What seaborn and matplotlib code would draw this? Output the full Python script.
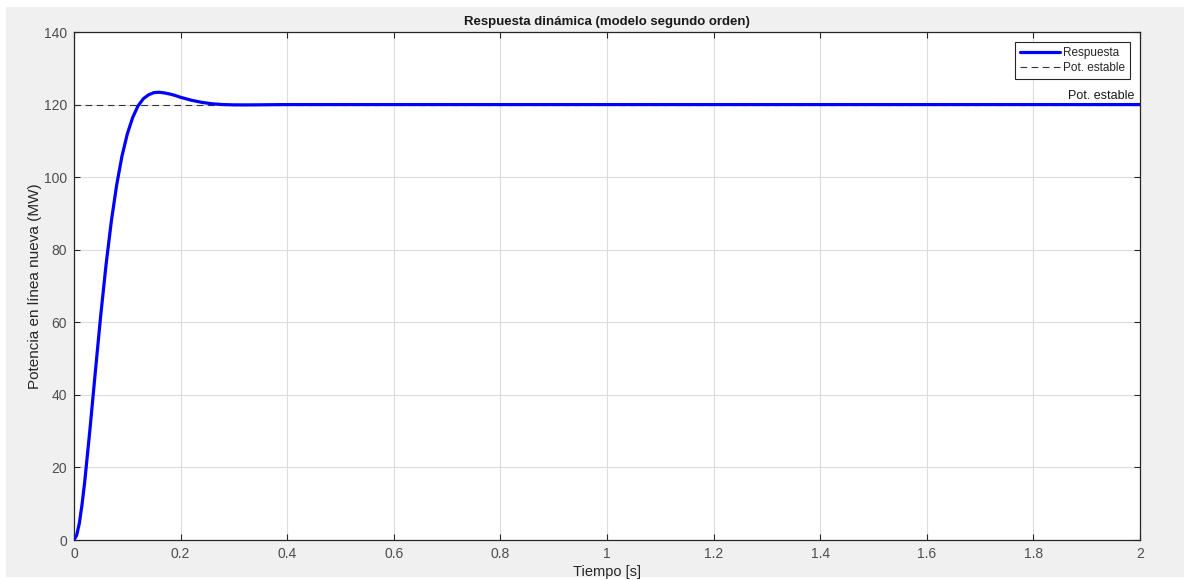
import matplotlib
matplotlib.use("Agg")
import matplotlib.pyplot as plt
import seaborn as sns
import pandas as pd
from matplotlib.patches import Rectangle

# Valores (respuesta al escalon)
tiempo = [0.0, 0.005, 0.01, 0.015, 0.02, 0.03, 0.04, 0.05, 0.06, 0.07, 0.08,
          0.09, 0.10, 0.11, 0.12, 0.13, 0.14, 0.15, 0.16, 0.17, 0.18, 0.19,
          0.20, 0.22, 0.24, 0.26, 0.28, 0.30, 0.33, 0.36, 0.40, 0.6, 0.8,
          1.0, 1.2, 1.4, 1.6, 1.8, 2.0]
potencia = [0.0, 1.3, 4.6, 9.7, 15.9, 30.6, 46.3, 61.7, 75.7, 87.8, 97.8,
            105.8, 111.9, 116.4, 119.6, 121.6, 122.7, 123.3, 123.4, 123.2,
            122.9, 122.5, 122.0, 121.2, 120.6, 120.2, 120.0, 119.92, 119.91,
            119.95, 120.0, 120.0, 120.0, 120.0, 120.0, 120.0, 120.0, 120.0,
            120.0]
pot_estable = 120
x_ticks = [0, 0.2, 0.4, 0.6, 0.8, 1.0, 1.2, 1.4, 1.6, 1.8, 2.0]
x_labels = ["0", "0.2", "0.4", "0.6", "0.8", "1", "1.2", "1.4", "1.6", "1.8", "2"]
y_ticks = [0, 20, 40, 60, 80, 100, 120, 140]

df = pd.DataFrame({"Tiempo": tiempo, "Potencia": potencia})

sns.set_theme(style="whitegrid")
plt.rcParams["font.family"] = ["Liberation Sans", "DejaVu Sans"]

fig = plt.figure(figsize=(11.84, 5.8), dpi=100, facecolor="white")
# panel gris estilo MATLAB
fig.patches.append(Rectangle((6 / 1184, 3 / 580), 1 - 6 / 1184, 570 / 580,
                             transform=fig.transFigure, facecolor="#f0f0f0",
                             edgecolor="none", zorder=-10))
ax = fig.add_axes([74 / 1184, 40 / 580, 1066 / 1184, 508 / 580])
ax.set_facecolor("white")

sns.lineplot(data=df, x="Tiempo", y="Potencia", ax=ax, color="#0000ff",
             linewidth=2.3, label="Respuesta", zorder=3)
ax.axhline(pot_estable, color="#333333", linestyle=(0, (6, 4)), linewidth=0.8,
           label="Pot. estable", zorder=2)
ax.text(1.99, pot_estable + 0.6, "Pot. estable", ha="right", va="bottom",
        fontsize=9, color="#1a1a1a")

ax.set_xlim(0, 2)
ax.set_ylim(0, 140)
ax.set_xticks(x_ticks)
ax.set_xticklabels(x_labels)
ax.set_yticks(y_ticks)
ax.grid(True, color="#dcdcdc", linewidth=0.8)
ax.tick_params(direction="in", length=4, width=0.8, colors="#262626",
               labelcolor="#4d4d4d", labelsize=10, top=True, right=True,
               bottom=True, left=True, pad=5)
for s in ax.spines.values():
    s.set_color("#262626")
    s.set_linewidth(0.9)

ax.set_title("Respuesta dinámica (modelo segundo orden)", fontsize=9.5,
             fontweight="bold", color="#1a1a1a", pad=5)
ax.set_xlabel("Tiempo [s]", fontsize=10.5, color="#262626", labelpad=3)
ax.set_ylabel("Potencia en línea nueva (MW)", fontsize=11, color="#262626",
              labelpad=1)

leg = ax.legend(loc="upper right", fontsize=8.5, frameon=True, fancybox=False,
                edgecolor="#262626", framealpha=1, handlelength=3.4,
                borderpad=0.45, labelspacing=0.2, handletextpad=0.2,
                borderaxespad=0.85)
leg.get_frame().set_linewidth(0.8)

fig.savefig("out.png", dpi=100, facecolor=fig.get_facecolor())
